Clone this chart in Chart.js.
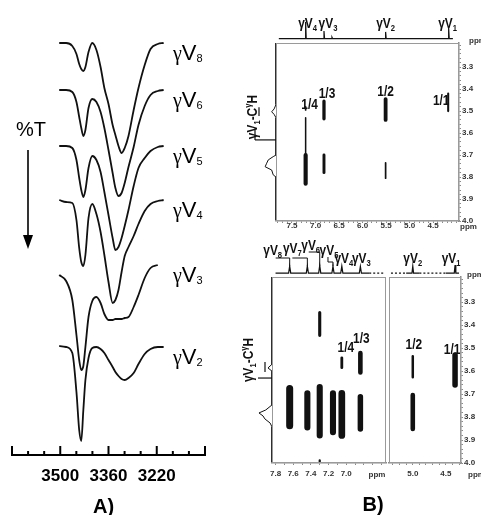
<!DOCTYPE html>
<html lang="en">
<head>
<meta charset="utf-8">
<title>γV oligomers: IR and NMR</title>
<script src="https://cdn.jsdelivr.net/npm/chart.js@4.4.1/dist/chart.umd.min.js"></script>
<style>
  html, body { margin: 0; padding: 0; background: #fff; }
  #figure { position: relative; width: 481px; height: 515px; overflow: hidden; }
  #figure canvas { position: absolute; }
</style>
</head>
<body>
<div id="figure"></div>
<script>
// A) IR spectra, N-H stretching region (cm-1)
const wavenumbers = [3503, 3483, 3465, 3453, 3445, 3439, 3433, 3427, 3418, 3407, 3395, 3383, 3372,
                     3360, 3348, 3340, 3331, 3322, 3313, 3302, 3287, 3273, 3255, 3238, 3217, 3200];
// %T, each trace keeps its stacking offset
const irV8 = [82.4, 82.4, 81.8, 80.2, 78.2, 77.2, 76.8, 77.6, 80.6, 82.4, 81.0, 77.6, 73.4, 70.2, 66.0, 64.0, 61.8, 60.4, 61.4, 63.8, 69.0, 73.4, 78.0, 81.2, 82.2, 82.4];
const irV6 = [73.0, 73.0, 72.6, 70.6, 67.6, 65.4, 63.8, 65.0, 69.4, 71.2, 70.6, 68.6, 65.4, 61.0, 56.4, 53.4, 51.8, 52.4, 54.4, 57.6, 61.6, 66.0, 69.8, 72.0, 72.8, 73.0];
const irV5 = [61.8, 61.8, 61.4, 59.0, 55.4, 53.0, 51.6, 53.0, 57.4, 59.8, 59.0, 56.6, 52.6, 48.0, 43.4, 41.0, 41.6, 43.4, 45.8, 49.0, 53.8, 57.4, 59.4, 60.8, 61.6, 61.8];
const irV4 = [51.0, 50.6, 50.4, 47.0, 41.4, 38.6, 37.8, 40.0, 47.4, 50.2, 48.2, 44.6, 40.0, 34.6, 30.4, 31.0, 33.0, 36.6, 39.8, 41.6, 43.8, 46.2, 48.8, 50.2, 50.8, 51.0];
const irV3 = [36.0, 34.8, 31.0, 24.0, 19.0, 17.0, 17.8, 21.6, 27.6, 30.8, 31.6, 30.4, 28.2, 27.0, 27.0, 27.2, 27.2, 27.2, 27.4, 27.6, 29.6, 32.0, 35.4, 37.4, 38.0, null];
const irV2 = [21.8, 21.6, 20.4, 12.6, 5.0, 2.8, 9.0, 15.0, 19.4, 21.4, 21.6, 21.2, 20.4, 19.0, 17.6, 16.6, 15.8, 15.2, 15.0, 15.4, 16.4, 18.2, 20.2, 21.2, 21.6, 21.6];
const irNames = ['8', '6', '5', '4', '3', '2'];
const irTickLabels = [3500, 3360, 3220];

// B) upper NOESY: 1D trace on top, side trace, cross peaks (ppm)
const upperProjPpm = [7.21, 6.82, 6.65, 5.51, 4.17];
const upperProjInt = [0.67, 0.31, 0.05, 0.27, 0.43];
const upperProjName = ['4', '3', '', '2', '1'];
const upperPeakF2 = [7.21, 7.21, 7.21, 6.82, 6.82, 5.51, 5.51, 4.18];
const upperPeakF1a = [3.48, 3.53, 3.70, 3.455, 3.70, 3.445, 3.735, 3.42];
const upperPeakF1b = [3.495, 3.70, 3.83, 3.535, 3.78, 3.54, 3.805, 3.50];
const upperPeakInt = [0.2, 0.15, 0.9, 0.65, 0.55, 0.8, 0.2, 0.3];
const upperPeakLabel = ['1/4', '', '', '1/3', '', '1/2', '', '1/1'];
const upperSideF1 = [3.19, 3.47, 3.49, 3.503, 3.515, 3.53, 3.70, 3.707, 3.722, 3.737, 3.753, 3.768, 3.79, 3.80, 4.0];
const upperSideInt = [0, 0, 0.06, 0.14, 0.06, 0, 0, 0.09, 0.25, 0.30, 0.35, 0.14, 0.09, 0, 0];
const upperF2Labels = [7.5, 7.0, 6.5, 6.0, 5.5, 5.0, 4.5];

// B) lower NOESY, two windows
const lowerLeftProjPpm = [7.64, 7.44, 7.30, 7.15, 7.05, 6.84];
const lowerLeftProjInt = [0.37, 0.37, 0.40, 0.37, 0.37, 0.35];
const lowerLeftProjName = ['8', '7', '6', '5', '4', '3'];
const lowerRightProjPpm = [5.00, 4.36];
const lowerRightProjInt = [0.37, 0.42];
const lowerRightProjName = ['2', '1'];
const lowerLeftPeakF2 = [7.64, 7.44, 7.30, 7.30, 7.30, 7.15, 7.05, 7.05, 6.84, 6.84];
const lowerLeftPeakF1a = [3.676, 3.697, 3.669, 3.345, 3.988, 3.697, 3.697, 3.542, 3.711, 3.521];
const lowerLeftPeakF1b = [3.838, 3.845, 3.880, 3.444, 3.998, 3.866, 3.880, 3.585, 3.852, 3.606];
const lowerLeftPeakInt = [1.0, 0.85, 0.85, 0.35, 0.2, 0.85, 0.95, 0.3, 0.75, 0.6];
const lowerLeftPeakLabel = ['', '', '', '', '', '', '', '1/4', '', '1/3'];
const lowerRightPeakF2 = [5.00, 5.00, 4.36];
const lowerRightPeakF1a = [3.704, 3.535, 3.53];
const lowerRightPeakF1b = [3.852, 3.627, 3.66];
const lowerRightPeakInt = [0.6, 0.25, 0.75];
const lowerRightPeakLabel = ['', '1/2', '1/1'];
const lowerSideF1 = [3.19, 3.57, 3.586, 3.60, 3.747, 3.769, 3.782, 3.795, 3.808, 3.826, 3.843, 4.0];
const lowerSideInt = [0, 0, 0.13, 0, 0, 0.2, 0.42, 0.29, 0.23, 0.06, 0, 0];
const lowerLeftF2Labels = [7.8, 7.6, 7.4, 7.2, 7.0];
const lowerRightF2Labels = [5.0, 4.5];
const f1Labels = [3.3, 3.4, 3.5, 3.6, 3.7, 3.8, 3.9, 4.0];

Chart.defaults.font.family = 'Arial';
const ink = '#111';
const axisGray = '#8a8a8a';
const tickFont = { family: 'Arial', size: 8, weight: 'bold' };
const f1Limits = [3.19, 4.0];
const figure = document.getElementById('figure');

function addCanvas(left, top, width, height) {
    const c = document.createElement('canvas');
    c.width = width;
    c.height = height;
    c.style.left = left + 'px';
    c.style.top = top + 'px';
    figure.appendChild(c);
    return c;
}

function baseOptions(padding) {
    return {
        responsive: false,
        animation: false,
        events: [],
        layout: { padding: padding },
        plugins: { legend: { display: false }, tooltip: { enabled: false } }
    };
}

const near = (a, b) => Math.abs(a - b) < 1e-6;

function stepTicks(lo, hi, step) {
    const out = [];
    for (let i = Math.ceil(lo / step - 1e-9); i * step <= hi + 1e-9; i++) {
        out.push(Math.round(i * step * 1000) / 1000);
    }
    return out;
}

// draws a row of text pieces [text, font, dy] on one baseline, optionally condensed
function textRun(ctx, parts, x, y, align, squeeze) {
    const sx = squeeze || 1;
    let w = 0;
    parts.forEach(p => { ctx.font = p[1]; w += ctx.measureText(p[0]).width; });
    ctx.save();
    ctx.translate(x, y);
    ctx.scale(sx, 1);
    ctx.textAlign = 'left';
    ctx.textBaseline = 'alphabetic';
    let cx = align === 'center' ? -w / 2 : 0;
    parts.forEach(p => {
        ctx.font = p[1];
        ctx.fillText(p[0], cx, p[2] || 0);
        cx += ctx.measureText(p[0]).width;
    });
    ctx.restore();
}

function nmrName(ctx, sub, cx, baseline) {
    textRun(ctx, [['γV', 'bold 14px Arial', 0], [sub, 'bold 9px Arial', 3]], cx, baseline, 'center', 0.85);
}

// ---------------- A) IR ----------------
const irSeries = [irV8, irV6, irV5, irV4, irV3, irV2];
const irTickValues = [];
for (let i = 0; i <= 12; i++) irTickValues.push(3640 - i * 140 / 3);

const irDecor = {
    id: 'irDecor',
    afterDraw(chart) {
        const { ctx, chartArea: a, scales: { x, y } } = chart;
        ctx.save();
        ctx.strokeStyle = '#000';
        ctx.fillStyle = '#000';
        ctx.lineWidth = 2;
        // ticks stand up from the axis, every third one long
        irTickValues.forEach((v, i) => {
            const px = x.getPixelForValue(v);
            ctx.beginPath();
            ctx.moveTo(px, a.bottom);
            ctx.lineTo(px, a.bottom - (i % 3 === 0 ? 9 : 4));
            ctx.stroke();
        });
        // trace names beside the right end of each trace
        irSeries.forEach((vals, i) => {
            let k = vals.length - 1;
            while (vals[k] === null) k--;
            const base = y.getPixelForValue(vals[k]) + 17;
            textRun(ctx, [['γ', '20px "Liberation Serif"', 0], ['V', '22px Arial', 0], [irNames[i], '11px Arial', 2]],
                x.getPixelForValue(3173), base, 'left');
        });
        // %T and the arrow
        ctx.font = '20px Arial';
        ctx.textAlign = 'center';
        ctx.textBaseline = 'middle';
        ctx.fillText('%T', a.left + 19, 130);
        ctx.lineWidth = 1.6;
        ctx.beginPath();
        ctx.moveTo(a.left + 16, 150);
        ctx.lineTo(a.left + 16, 238);
        ctx.stroke();
        ctx.beginPath();
        ctx.moveTo(a.left + 11, 235);
        ctx.lineTo(a.left + 21, 235);
        ctx.lineTo(a.left + 16, 249);
        ctx.closePath();
        ctx.fill();
        ctx.font = 'bold 20px Arial';
        ctx.fillText('A)', (a.left + a.right) / 2 - 5, a.bottom + 52);
        ctx.restore();
    }
};

new Chart(addCanvas(0, 0, 240, 515), {
    type: 'line',
    data: {
        datasets: irSeries.map((vals, i) => ({
            label: 'γV' + irNames[i],
            data: wavenumbers.map((w, j) => ({ x: w, y: vals[j] })),
            borderColor: ink,
            borderWidth: 1.8,
            pointRadius: 0,
            cubicInterpolationMode: 'monotone',
            spanGaps: false
        }))
    },
    options: Object.assign(baseOptions({ left: 12, right: 35, top: 0, bottom: 30 }), {
        scales: {
            x: {
                type: 'linear', reverse: true, min: 3080, max: 3640,
                afterBuildTicks: s => { s.ticks = irTickValues.map(v => ({ value: v })); },
                afterFit: s => { s.height = 30; },
                grid: { display: false, drawTicks: false, tickLength: 0 },
                border: { display: true, color: '#000', width: 2 },
                ticks: {
                    autoSkip: false, maxRotation: 0, padding: 11, color: '#000',
                    font: { family: 'Arial', size: 17, weight: 'bold' },
                    callback: v => irTickLabels.some(t => near(t, v)) ? String(Math.round(v)) : ''
                }
            },
            y: { display: false, min: 0, max: 91 }
        }
    }),
    plugins: [irDecor]
});

// ---------------- B) NMR helpers ----------------
function f2Axis(range, labels, height, pad) {
    return {
        type: 'linear', position: 'bottom', reverse: true, min: range[1], max: range[0],
        afterBuildTicks: s => { s.ticks = stepTicks(s.min, s.max, 0.1).map(v => ({ value: v })); },
        afterFit: s => { s.height = height; },
        grid: { display: true, drawOnChartArea: false, drawTicks: true, tickLength: 2, color: axisGray },
        border: { display: true, color: axisGray, width: 1.5 },
        ticks: {
            autoSkip: false, maxRotation: 0, padding: pad, color: '#333', font: tickFont,
            callback: v => labels.some(t => near(t, v)) ? v.toFixed(1) : ''
        }
    };
}

function f1Axis(show, width) {
    return {
        type: 'linear', position: 'right', reverse: true, min: f1Limits[0], max: f1Limits[1], display: show,
        afterBuildTicks: s => { s.ticks = stepTicks(s.min, s.max, 0.02).map(v => ({ value: v })); },
        afterFit: s => { s.width = width; },
        grid: { display: true, drawOnChartArea: false, drawTicks: true, tickLength: 2, color: axisGray },
        border: { display: true, color: axisGray, width: 1.5 },
        ticks: {
            autoSkip: false, padding: 1, color: '#333', font: tickFont,
            callback: v => f1Labels.some(t => near(t, v)) ? v.toFixed(1) : ''
        }
    };
}

function peakSets(f2, f1a, f1b, inten, widthScale) {
    return f2.map((x, i) => ({
        data: [{ x: x, y: f1a[i] }, { x: x, y: f1b[i] }],
        borderColor: ink,
        borderWidth: 1 + inten[i] * widthScale,
        borderCapStyle: 'round',
        pointRadius: 0
    }));
}

function peakLabelPlugin(f2, f1a, labels, offsets) {
    return {
        id: 'peakLabels',
        afterDatasetsDraw(chart) {
            const { ctx, scales: { x, y } } = chart;
            ctx.save();
            ctx.fillStyle = ink;
            labels.forEach((t, i) => {
                if (!t) return;
                const o = offsets[t];
                textRun(ctx, [[t, 'bold 14px Arial', 0]], x.getPixelForValue(f2[i]) + o[0],
                    y.getPixelForValue(f1a[i]) + o[1], 'center', 0.85);
            });
            ctx.restore();
        }
    };
}

// frame around the 2D window, plus the small 'ppm' notes and panel letter
function framePlugin(notes) {
    return {
        id: 'frameNotes',
        afterDraw(chart) {
            const { ctx, chartArea: a } = chart;
            ctx.save();
            ctx.strokeStyle = '#9a9a9a';
            ctx.lineWidth = 1;
            ctx.strokeRect(a.left + 0.5, a.top + 0.5, a.right - a.left - 1, a.bottom - a.top - 1);
            notes.forEach(n => {
                ctx.fillStyle = n.color || '#333';
                ctx.font = n.font || 'bold 8px Arial';
                ctx.textAlign = n.align || 'left';
                ctx.textBaseline = 'middle';
                ctx.fillText(n.text, n.at(a)[0], n.at(a)[1]);
            });
            ctx.restore();
        }
    };
}

function spikeTrace(limits, knots, ppm, inten) {
    const pts = [limits[0], limits[1]].concat(knots).map(p => ({ x: p, y: 0 }));
    ppm.forEach((p, i) => pts.push({ x: p + 0.012, y: 0 }, { x: p, y: inten[i] }, { x: p - 0.012, y: 0 }));
    return pts.sort((a, b) => b.x - a.x);
}

function projChart(canvas, padding, range, trace, dashes, ppm, names, layout) {
    const dashed = c => {
        const m = (c.p0.parsed.x + c.p1.parsed.x) / 2;
        return dashes.some(r => m <= r[0] && m >= r[1]) ? [2, 2] : undefined;
    };
    const labels = {
        id: 'projLabels',
        afterDraw(chart) {
            const { ctx, chartArea: a, scales: { x } } = chart;
            ctx.save();
            ctx.fillStyle = ink;
            ctx.strokeStyle = ink;
            ctx.lineWidth = 1;
            ppm.forEach((p, i) => {
                const L = layout[i];
                if (!names[i] || !L) return;
                const sx = x.getPixelForValue(p);
                nmrName(ctx, names[i], sx + L.dx, a.top + L.dy);
                if (L.path) {
                    ctx.beginPath();
                    L.path.forEach((q, k) => {
                        if (k) ctx.lineTo(sx + q[0], a.top + q[1]);
                        else ctx.moveTo(sx + q[0], a.top + q[1]);
                    });
                    ctx.stroke();
                }
            });
            ctx.restore();
        }
    };
    return new Chart(canvas, {
        type: 'line',
        data: { datasets: [{ data: trace, borderColor: ink, borderWidth: 1.2, pointRadius: 0, segment: { borderDash: dashed } }] },
        options: Object.assign(baseOptions(padding), {
            scales: {
                x: { type: 'linear', reverse: true, min: range[1], max: range[0], display: false },
                y: { type: 'linear', min: -0.1, max: 1, display: false }
            }
        }),
        plugins: [labels]
    });
}

function sideChart(canvas, padding, f1, inten, labelPpm, marks) {
    const decor = {
        id: 'sideDecor',
        afterDraw(chart) {
            const { ctx, chartArea: a, scales: { y } } = chart;
            ctx.save();
            ctx.fillStyle = ink;
            ctx.strokeStyle = ink;
            ctx.lineWidth = 1.2;
            marks.forEach(m => {
                ctx.beginPath();
                ctx.moveTo(a.right + m[0], y.getPixelForValue(m[1]));
                ctx.lineTo(a.right + m[2], y.getPixelForValue(m[3]));
                ctx.stroke();
            });
            ctx.translate(a.right - 24, y.getPixelForValue(labelPpm));
            ctx.rotate(-Math.PI / 2);
            textRun(ctx, [['γV', 'bold 14px Arial', 0], ['1', 'bold 9px Arial', 3], ['-C', 'bold 14px Arial', 0],
                ['γ', 'bold 9px Arial', -6], ['H', 'bold 14px Arial', 0]], 0, 5, 'center', 0.85);
            ctx.restore();
        }
    };
    return new Chart(canvas, {
        type: 'line',
        data: { datasets: [{ data: f1.map((v, i) => ({ x: inten[i], y: v })), borderColor: ink, borderWidth: 1, pointRadius: 0 }] },
        options: Object.assign(baseOptions(padding), {
            scales: {
                x: { type: 'linear', reverse: true, min: 0, max: 1, display: false },
                y: { type: 'linear', reverse: true, min: f1Limits[0], max: f1Limits[1], display: false }
            }
        }),
        plugins: [decor]
    });
}

function mainChart(canvas, padding, scales, sets, plugins) {
    return new Chart(canvas, {
        type: 'line',
        data: { datasets: sets },
        options: Object.assign(baseOptions(padding), { scales: scales }),
        plugins: plugins
    });
}

// ---------------- B) upper spectrum ----------------
const upperRange = [7.84, 3.95];
sideChart(addCanvas(240, 0, 40, 240), { left: 5, right: 4, top: 43, bottom: 19 },
    upperSideF1, upperSideInt, 3.527,
    [[-17, 3.482, -17, 3.522], [-21, 3.631, 0, 3.631], [-21, 3.586, -21, 3.631]]);

projChart(addCanvas(240, 0, 241, 44), { left: 36, right: 22, top: 14, bottom: 3 }, upperRange,
    spikeTrace([7.78, 4.08], [], upperProjPpm, upperProjInt), [],
    upperProjPpm, upperProjName,
    [{ dx: 2, dy: 14 }, { dx: 4, dy: 14 }, null, { dx: 0, dy: 14 }, { dx: -1, dy: 14 }]);

mainChart(addCanvas(240, 0, 241, 240), { left: 36, top: 43, right: 0, bottom: 0 },
    { x: f2Axis(upperRange, upperF2Labels, 19, -2), y: f1Axis(true, 22) },
    peakSets(upperPeakF2, upperPeakF1a, upperPeakF1b, upperPeakInt, 3.5),
    [peakLabelPlugin(upperPeakF2, upperPeakF1a, upperPeakLabel,
        { '1/4': [4, 2], '1/3': [3, -3], '1/2': [0, -3], '1/1': [-7, 11] }),
     framePlugin([
        { text: 'ppm', at: a => [a.right + 1, a.bottom + 6] },
        { text: 'ppm', at: a => [a.right + 10, a.top - 2] }
     ])]);

// ---------------- B) lower spectrum ----------------
const lowerLeftRange = [7.84, 6.55];
const lowerRightRange = [5.36, 4.27];

sideChart(addCanvas(240, 240, 36, 275), { left: 1, right: 4, top: 37, bottom: 52 },
    lowerSideF1, lowerSideInt, 3.551,
    [[-7, 3.56, -7, 3.604], [-14, 3.63, 0, 3.63]]);

projChart(addCanvas(240, 230, 150, 46), { left: 32, right: 4, top: 24, bottom: 1 }, lowerLeftRange,
    spikeTrace([7.80, 6.56], [6.74], lowerLeftProjPpm, lowerLeftProjInt), [[6.74, 6.56]],
    lowerLeftProjPpm, lowerLeftProjName,
    [{ dx: -17, dy: 1, path: [[-14, 4], [0, 4], [0, 12]] },
     { dx: -15, dy: -1, path: [[-15, 4], [0, 4], [0, 12]] },
     { dx: -9, dy: -4, path: [[-11, -2], [0, -2], [0, 12]] },
     { dx: -4, dy: 1, path: [[-5, 3], [-5, 8], [0, 8], [0, 12]] },
     { dx: 2, dy: 9 },
     { dx: 1, dy: 9 }]);

projChart(addCanvas(385, 230, 96, 46), { left: 4, right: 20, top: 24, bottom: 1 }, lowerRightRange,
    spikeTrace([5.33, 4.30], [5.10, 4.90, 4.50], lowerRightProjPpm, lowerRightProjInt), [[5.33, 5.10], [4.90, 4.50]],
    lowerRightProjPpm, lowerRightProjName,
    [{ dx: 0, dy: 9 }, { dx: -4, dy: 9 }]);

mainChart(addCanvas(240, 240, 150, 275), { left: 32, right: 4, top: 37, bottom: 32 },
    { x: f2Axis(lowerLeftRange, lowerLeftF2Labels, 20, 4), y: f1Axis(false, 0) },
    peakSets(lowerLeftPeakF2, lowerLeftPeakF1a, lowerLeftPeakF1b, lowerLeftPeakInt, 6),
    [peakLabelPlugin(lowerLeftPeakF2, lowerLeftPeakF1a, lowerLeftPeakLabel, { '1/4': [4, -6], '1/3': [1, -10] }),
     framePlugin([
        { text: 'ppm', align: 'center', at: a => [a.right - 9, a.bottom + 12] },
        { text: 'B)', align: 'center', font: 'bold 20px Arial', color: '#000', at: a => [a.right - 13, a.bottom + 42] }
     ])]);

mainChart(addCanvas(385, 240, 96, 275), { left: 4, right: 0, top: 37, bottom: 32 },
    { x: f2Axis(lowerRightRange, lowerRightF2Labels, 20, 4), y: f1Axis(true, 20) },
    peakSets(lowerRightPeakF2, lowerRightPeakF1a, lowerRightPeakF1b, lowerRightPeakInt, 6),
    [peakLabelPlugin(lowerRightPeakF2, lowerRightPeakF1a, lowerRightPeakLabel, { '1/2': [1, -7], '1/1': [-3, -1] }),
     framePlugin([
        { text: 'ppm', at: a => [a.right + 7, a.bottom + 12] },
        { text: 'ppm', at: a => [a.right + 6, a.top - 2] }
     ])]);
</script>
</body>
</html>
